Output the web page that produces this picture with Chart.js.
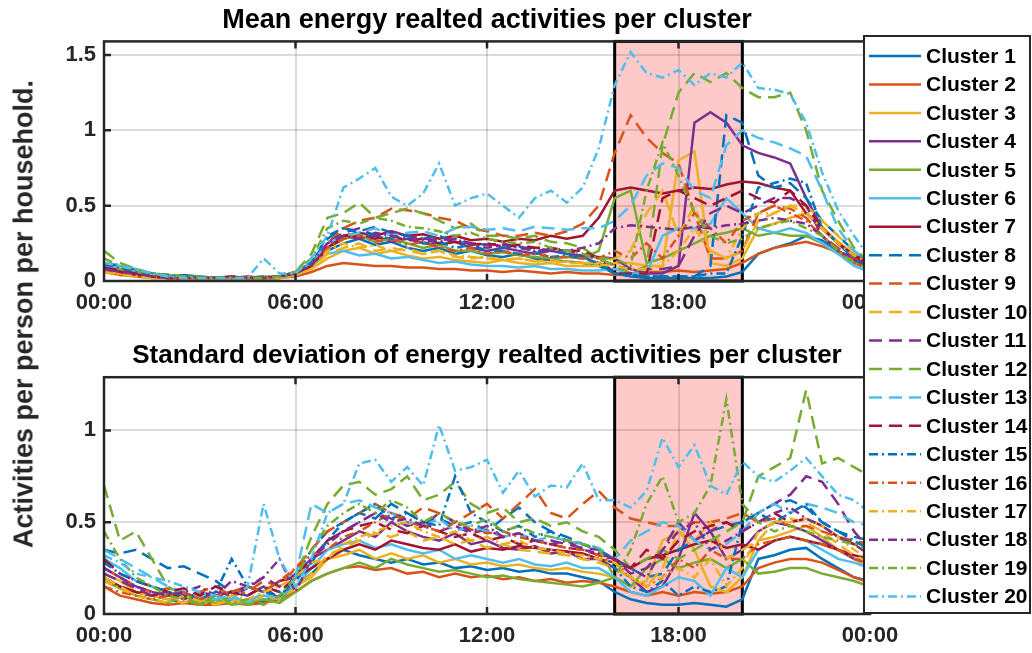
<!DOCTYPE html>
<html lang="en">
<head>
<meta charset="UTF-8">
<title>Energy related activities per cluster</title>
<script src="https://cdn.jsdelivr.net/npm/chart.js"></script>
<style>
    body { margin: 0; background: #fff; }
    #wrap { position: relative; width: 1032px; height: 653px; }
    #topChart { position: absolute; left: 0; top: 0; }
    #botChart { position: absolute; left: 0; top: 330px; }
    #legend { position: absolute; left: 860px; top: 32px; }
    #ylab {
        position: absolute; left: 24px; top: 314px;
        transform: translate(-50%, -50%) rotate(-90deg);
        white-space: nowrap; color: #262626;
        font: bold 27px "Liberation Sans", Arial, sans-serif;
    }
</style>
</head>
<body>
<div id="wrap">
    <canvas id="topChart" width="1032" height="330"></canvas>
    <canvas id="botChart" width="1032" height="323"></canvas>
    <canvas id="legend" width="172" height="586"></canvas>
    <div id="ylab">Activities per person per household.</div>
</div>
<script>
// time of day in hours, every 30 minutes
const hours = [0,0.5,1,1.5,2,2.5,3,3.5,4,4.5,5,5.5,6,6.5,7,7.5,8,8.5,9,9.5,10,10.5,11,11.5,
    12,12.5,13,13.5,14,14.5,15,15.5,16,16.5,17,17.5,18,18.5,19,19.5,20,20.5,21,21.5,22,22.5,23,23.5,24];
const tickHours = [0, 6, 12, 18, 24];
const tickLabels = ['00:00', '06:00', '12:00', '18:00', '00:00'];
const meanTicks = [0, 0.5, 1, 1.5];
const stdTicks = [0, 0.5, 1];
const peakStart = 16, peakEnd = 20;

// mean activities (top plot)
const m1 = [0.1,0.08,0.06,0.04,0.03,0.04,0.03,0.02,0.03,0.02,0.02,0.03,0.05,0.1,
    0.2,0.25,0.28,0.24,0.26,0.22,0.2,0.22,0.18,0.2,0.17,0.16,0.18,0.15,0.14,0.13,0.12,0.1,
    0.05,0.03,0.02,0.02,0.02,0.02,0.02,0.03,0.06,0.18,0.22,0.25,0.3,0.27,0.2,0.14,0.08];
const m2 = [0.06,0.04,0.03,0.02,0.02,0.01,0.01,0.01,0.01,0.01,0.01,0.02,0.03,0.06,
    0.1,0.12,0.11,0.1,0.1,0.09,0.09,0.08,0.08,0.07,0.07,0.06,0.07,0.06,0.05,0.06,0.05,0.05,
    0.04,0.05,0.06,0.06,0.07,0.06,0.07,0.08,0.12,0.18,0.22,0.24,0.26,0.23,0.19,0.14,0.08];
const m3 = [0.08,0.05,0.04,0.02,0.02,0.02,0.01,0.01,0.01,0.01,0.02,0.02,0.04,0.08,
    0.15,0.2,0.22,0.18,0.2,0.17,0.15,0.16,0.14,0.13,0.12,0.14,0.12,0.11,0.12,0.1,0.1,0.1,
    0.12,0.12,0.1,0.1,0.8,0.86,0.12,0.1,0.15,0.35,0.38,0.42,0.45,0.36,0.26,0.18,0.11];
const m4 = [0.09,0.07,0.05,0.03,0.02,0.02,0.01,0.02,0.01,0.02,0.02,0.03,0.05,0.12,
    0.25,0.3,0.28,0.3,0.26,0.28,0.25,0.24,0.26,0.22,0.2,0.22,0.2,0.18,0.2,0.18,0.17,0.16,
    0.15,0.08,0.05,0.05,0.1,1.05,1.12,1.05,0.9,0.85,0.82,0.78,0.55,0.35,0.25,0.17,0.1];
const m5 = [0.1,0.08,0.06,0.05,0.04,0.03,0.03,0.02,0.02,0.02,0.03,0.03,0.06,0.12,
    0.22,0.28,0.3,0.26,0.28,0.25,0.22,0.24,0.2,0.2,0.18,0.19,0.17,0.16,0.15,0.16,0.15,0.2,
    0.55,0.6,0.12,0.15,0.2,0.25,0.3,0.32,0.35,0.3,0.32,0.3,0.3,0.25,0.18,0.12,0.08];
const m6 = [0.12,0.1,0.08,0.05,0.03,0.02,0.02,0.02,0.02,0.02,0.02,0.02,0.04,0.1,
    0.18,0.2,0.17,0.18,0.15,0.16,0.14,0.12,0.13,0.11,0.1,0.1,0.09,0.1,0.08,0.08,0.07,0.07,
    0.08,0.05,0.05,0.3,0.35,0.35,0.38,0.55,0.45,0.35,0.32,0.35,0.32,0.25,0.18,0.1,0.06];
const m7 = [0.08,0.06,0.04,0.03,0.02,0.02,0.02,0.02,0.02,0.03,0.02,0.03,0.05,0.1,
    0.22,0.3,0.32,0.3,0.33,0.3,0.31,0.28,0.3,0.27,0.28,0.26,0.28,0.27,0.3,0.28,0.3,0.42,
    0.6,0.62,0.6,0.58,0.6,0.62,0.61,0.64,0.66,0.65,0.62,0.6,0.45,0.35,0.25,0.15,0.1];
const m8 = [0.12,0.1,0.07,0.05,0.03,0.03,0.02,0.02,0.02,0.02,0.02,0.03,0.05,0.12,
    0.28,0.35,0.33,0.36,0.32,0.3,0.28,0.3,0.26,0.25,0.24,0.22,0.23,0.2,0.2,0.18,0.16,0.12,
    0.05,0.04,0.03,0.03,0.03,0.03,0.1,1.1,1.05,0.7,0.62,0.65,0.55,0.4,0.3,0.2,0.12];
const m9 = [0.07,0.05,0.04,0.03,0.02,0.02,0.02,0.01,0.02,0.02,0.02,0.03,0.05,0.1,
    0.25,0.35,0.4,0.42,0.48,0.47,0.45,0.42,0.4,0.35,0.33,0.3,0.3,0.32,0.3,0.33,0.38,0.5,
    0.85,1.1,0.95,0.85,0.78,0.45,0.15,0.15,0.2,0.45,0.5,0.48,0.42,0.3,0.22,0.15,0.1];
const m10 = [0.06,0.05,0.03,0.02,0.02,0.02,0.01,0.01,0.01,0.02,0.02,0.02,0.04,0.09,
    0.18,0.22,0.25,0.2,0.22,0.2,0.18,0.2,0.16,0.15,0.16,0.14,0.15,0.13,0.14,0.12,0.12,0.12,
    0.15,0.2,0.45,0.6,0.3,0.5,0.2,0.15,0.2,0.4,0.45,0.5,0.5,0.4,0.3,0.2,0.12];
const m11 = [0.08,0.06,0.04,0.03,0.02,0.02,0.02,0.02,0.02,0.02,0.02,0.03,0.06,0.12,
    0.25,0.32,0.35,0.3,0.33,0.3,0.28,0.27,0.28,0.25,0.24,0.25,0.22,0.22,0.2,0.2,0.18,0.15,
    0.1,0.08,0.08,0.08,0.1,0.3,0.45,0.5,0.45,0.5,0.55,0.55,0.5,0.3,0.2,0.14,0.09];
const m12 = [0.2,0.12,0.08,0.05,0.04,0.03,0.02,0.02,0.02,0.02,0.02,0.03,0.06,0.18,
    0.42,0.45,0.52,0.42,0.45,0.48,0.45,0.4,0.35,0.38,0.3,0.3,0.28,0.3,0.26,0.25,0.22,0.15,
    0.1,0.05,0.1,0.9,1.25,1.38,1.32,1.38,1.28,1.22,1.22,1.25,1.0,0.6,0.4,0.22,0.12];
const m13 = [0.1,0.08,0.06,0.04,0.03,0.02,0.02,0.02,0.02,0.02,0.02,0.02,0.05,0.12,
    0.25,0.3,0.32,0.35,0.3,0.32,0.33,0.3,0.35,0.36,0.34,0.35,0.33,0.36,0.35,0.34,0.35,0.35,
    0.4,0.5,0.7,0.78,0.75,0.6,0.55,0.9,1.0,0.95,0.92,0.88,0.83,0.6,0.35,0.2,0.12];
const m14 = [0.09,0.07,0.05,0.03,0.02,0.02,0.02,0.02,0.03,0.02,0.02,0.03,0.05,0.1,
    0.22,0.28,0.3,0.28,0.3,0.27,0.28,0.25,0.26,0.24,0.25,0.23,0.24,0.22,0.22,0.2,0.2,0.15,
    0.05,0.05,0.05,0.55,0.6,0.55,0.5,0.55,0.6,0.55,0.52,0.6,0.5,0.35,0.25,0.17,0.12];
const m15 = [0.11,0.09,0.06,0.05,0.04,0.03,0.02,0.02,0.02,0.02,0.03,0.02,0.05,0.12,
    0.3,0.35,0.32,0.3,0.28,0.3,0.25,0.26,0.22,0.24,0.2,0.2,0.18,0.19,0.16,0.17,0.15,0.12,
    0.05,0.04,0.03,0.03,0.03,0.03,0.05,0.05,0.3,0.62,0.65,0.68,0.65,0.35,0.25,0.15,0.08];
const m16 = [0.07,0.05,0.04,0.03,0.02,0.02,0.02,0.02,0.02,0.02,0.02,0.02,0.05,0.1,
    0.22,0.28,0.3,0.26,0.28,0.24,0.26,0.22,0.2,0.22,0.18,0.2,0.17,0.18,0.16,0.16,0.15,0.15,
    0.2,0.15,0.25,0.15,0.3,0.45,0.35,0.25,0.4,0.45,0.5,0.45,0.4,0.3,0.2,0.12,0.08];
const m17 = [0.06,0.04,0.03,0.02,0.02,0.01,0.01,0.01,0.02,0.01,0.02,0.02,0.04,0.08,
    0.2,0.25,0.22,0.24,0.2,0.22,0.18,0.2,0.17,0.16,0.15,0.14,0.15,0.13,0.12,0.13,0.12,0.11,
    0.1,0.08,0.08,0.1,0.2,0.35,0.2,0.15,0.35,0.45,0.45,0.5,0.45,0.35,0.25,0.17,0.12];
const m18 = [0.08,0.06,0.05,0.03,0.02,0.02,0.02,0.02,0.02,0.02,0.02,0.03,0.05,0.1,
    0.25,0.3,0.28,0.32,0.3,0.28,0.27,0.26,0.28,0.24,0.22,0.24,0.22,0.2,0.21,0.2,0.22,0.25,
    0.35,0.37,0.36,0.35,0.34,0.36,0.35,0.37,0.38,0.4,0.42,0.4,0.38,0.3,0.2,0.15,0.1];
const m19 = [0.15,0.1,0.07,0.05,0.04,0.03,0.02,0.02,0.02,0.02,0.02,0.03,0.06,0.15,
    0.35,0.4,0.38,0.42,0.4,0.36,0.35,0.33,0.3,0.32,0.28,0.26,0.25,0.26,0.22,0.2,0.18,0.15,
    0.15,0.1,0.6,0.92,0.7,0.45,0.3,0.25,0.28,0.35,0.38,0.4,0.35,0.3,0.2,0.12,0.08];
const m20 = [0.12,0.1,0.08,0.05,0.03,0.02,0.02,0.02,0.02,0.02,0.15,0.05,0.05,0.15,
    0.3,0.62,0.68,0.75,0.56,0.5,0.58,0.78,0.5,0.55,0.58,0.5,0.42,0.55,0.6,0.52,0.62,0.88,
    1.3,1.52,1.38,1.35,1.4,1.3,1.38,1.35,1.45,1.28,1.27,1.24,1.05,0.72,0.47,0.3,0.15];

// standard deviation (bottom plot)
const s1 = [0.2,0.15,0.12,0.1,0.08,0.06,0.07,0.05,0.08,0.06,0.07,0.1,0.15,0.22,
    0.3,0.35,0.32,0.3,0.28,0.3,0.27,0.28,0.25,0.26,0.24,0.25,0.23,0.24,0.22,0.22,0.2,0.18,
    0.12,0.08,0.06,0.05,0.05,0.06,0.05,0.04,0.08,0.3,0.32,0.35,0.36,0.3,0.25,0.2,0.18];
const s2 = [0.15,0.1,0.08,0.06,0.05,0.06,0.05,0.05,0.06,0.05,0.06,0.08,0.12,0.18,
    0.22,0.25,0.26,0.24,0.25,0.22,0.23,0.2,0.22,0.2,0.21,0.19,0.2,0.18,0.19,0.17,0.18,0.17,
    0.15,0.12,0.1,0.12,0.1,0.12,0.11,0.12,0.15,0.25,0.28,0.3,0.3,0.28,0.24,0.2,0.17];
const s3 = [0.22,0.18,0.12,0.1,0.08,0.1,0.07,0.08,0.06,0.08,0.1,0.08,0.15,0.2,
    0.3,0.32,0.35,0.3,0.33,0.3,0.32,0.28,0.3,0.27,0.28,0.26,0.27,0.25,0.24,0.25,0.23,0.22,
    0.2,0.15,0.18,0.4,0.45,0.35,0.15,0.12,0.2,0.4,0.42,0.45,0.48,0.42,0.35,0.3,0.25];
const s4 = [0.25,0.2,0.15,0.12,0.1,0.12,0.08,0.1,0.12,0.1,0.15,0.08,0.2,0.3,
    0.35,0.4,0.45,0.42,0.5,0.45,0.42,0.4,0.44,0.38,0.4,0.36,0.35,0.37,0.33,0.34,0.3,0.3,
    0.25,0.2,0.12,0.15,0.3,0.55,0.45,0.3,0.35,0.45,0.5,0.48,0.45,0.4,0.35,0.3,0.28];
const s5 = [0.18,0.14,0.1,0.08,0.06,0.1,0.05,0.08,0.05,0.06,0.08,0.06,0.12,0.18,
    0.22,0.25,0.28,0.25,0.3,0.27,0.25,0.23,0.24,0.22,0.2,0.21,0.19,0.18,0.17,0.16,0.15,0.17,
    0.2,0.15,0.25,0.3,0.25,0.28,0.3,0.25,0.3,0.22,0.23,0.25,0.25,0.22,0.2,0.18,0.15];
const s6 = [0.3,0.25,0.18,0.15,0.12,0.1,0.08,0.1,0.08,0.06,0.1,0.08,0.15,0.25,
    0.35,0.38,0.4,0.36,0.38,0.35,0.33,0.35,0.3,0.32,0.3,0.28,0.3,0.27,0.26,0.28,0.25,0.25,
    0.2,0.12,0.1,0.15,0.2,0.18,0.1,0.25,0.2,0.35,0.4,0.42,0.4,0.35,0.3,0.28,0.25];
const s7 = [0.2,0.15,0.12,0.1,0.12,0.08,0.12,0.1,0.12,0.15,0.12,0.18,0.2,0.25,
    0.3,0.35,0.38,0.35,0.4,0.38,0.36,0.35,0.38,0.34,0.36,0.35,0.37,0.36,0.35,0.34,0.33,0.3,
    0.28,0.25,0.3,0.32,0.35,0.38,0.4,0.36,0.38,0.35,0.4,0.42,0.4,0.38,0.35,0.32,0.3];
const s8 = [0.35,0.33,0.35,0.3,0.25,0.26,0.22,0.18,0.12,0.1,0.15,0.12,0.2,0.35,
    0.45,0.5,0.55,0.52,0.6,0.55,0.5,0.52,0.48,0.5,0.45,0.52,0.58,0.5,0.45,0.42,0.38,0.35,
    0.3,0.25,0.2,0.22,0.35,0.4,0.45,0.48,0.5,0.55,0.6,0.62,0.58,0.5,0.45,0.42,0.4];
const s9 = [0.25,0.2,0.15,0.12,0.14,0.1,0.12,0.15,0.1,0.12,0.18,0.15,0.25,0.35,
    0.45,0.5,0.55,0.6,0.55,0.52,0.58,0.55,0.5,0.55,0.6,0.52,0.6,0.68,0.55,0.52,0.6,0.67,
    0.58,0.52,0.5,0.48,0.48,0.5,0.5,0.52,0.55,0.5,0.52,0.48,0.48,0.45,0.42,0.4,0.38];
const s10 = [0.2,0.15,0.1,0.12,0.08,0.06,0.1,0.05,0.08,0.06,0.1,0.08,0.14,0.22,
    0.32,0.36,0.4,0.44,0.42,0.45,0.4,0.42,0.38,0.4,0.36,0.38,0.35,0.34,0.33,0.32,0.3,0.28,
    0.25,0.2,0.15,0.25,0.45,0.4,0.5,0.3,0.35,0.4,0.5,0.52,0.5,0.45,0.38,0.32,0.28];
const s11 = [0.22,0.18,0.14,0.1,0.12,0.1,0.08,0.12,0.1,0.14,0.2,0.15,0.22,0.3,
    0.4,0.45,0.5,0.55,0.52,0.48,0.5,0.45,0.48,0.44,0.46,0.42,0.44,0.4,0.4,0.38,0.36,0.35,
    0.3,0.22,0.25,0.35,0.5,0.4,0.45,0.5,0.45,0.55,0.6,0.65,0.75,0.72,0.6,0.45,0.35];
const s12 = [0.7,0.4,0.45,0.3,0.15,0.1,0.08,0.06,0.1,0.05,0.08,0.06,0.2,0.42,
    0.6,0.7,0.72,0.65,0.68,0.75,0.62,0.65,0.72,0.6,0.55,0.58,0.5,0.52,0.48,0.5,0.45,0.42,
    0.35,0.25,0.3,0.35,0.3,0.35,0.4,0.45,0.5,0.75,0.8,0.85,1.22,0.82,0.85,0.8,0.75];
const s13 = [0.35,0.3,0.25,0.2,0.15,0.12,0.1,0.08,0.1,0.06,0.12,0.08,0.2,0.6,
    0.55,0.6,0.62,0.58,0.55,0.5,0.48,0.52,0.45,0.48,0.45,0.42,0.44,0.4,0.42,0.4,0.38,0.36,
    0.3,0.4,0.45,0.5,0.48,0.4,0.35,0.38,0.45,0.55,0.6,0.55,0.6,0.58,0.55,0.5,0.48];
const s14 = [0.3,0.22,0.18,0.15,0.12,0.14,0.1,0.15,0.12,0.1,0.15,0.12,0.2,0.3,
    0.4,0.45,0.48,0.5,0.46,0.44,0.48,0.45,0.42,0.44,0.4,0.42,0.38,0.4,0.38,0.36,0.35,0.32,
    0.3,0.25,0.35,0.3,0.4,0.45,0.48,0.5,0.45,0.5,0.55,0.5,0.52,0.48,0.42,0.38,0.35];
const s15 = [0.28,0.22,0.18,0.15,0.12,0.1,0.08,0.12,0.3,0.15,0.12,0.1,0.18,0.28,
    0.4,0.5,0.55,0.6,0.52,0.55,0.5,0.48,0.75,0.55,0.5,0.45,0.48,0.42,0.45,0.4,0.38,0.35,
    0.25,0.15,0.12,0.18,0.1,0.15,0.12,0.15,0.5,0.55,0.5,0.55,0.6,0.5,0.45,0.4,0.35];
const s16 = [0.15,0.12,0.1,0.08,0.1,0.12,0.08,0.1,0.12,0.15,0.12,0.18,0.25,0.32,
    0.35,0.42,0.45,0.5,0.55,0.5,0.48,0.45,0.5,0.46,0.44,0.45,0.42,0.4,0.38,0.36,0.35,0.32,
    0.28,0.2,0.15,0.2,0.3,0.25,0.35,0.3,0.3,0.38,0.4,0.42,0.4,0.38,0.35,0.3,0.27];
const s17 = [0.18,0.14,0.1,0.08,0.06,0.1,0.07,0.05,0.1,0.08,0.12,0.15,0.2,0.28,
    0.3,0.38,0.42,0.45,0.48,0.5,0.45,0.42,0.45,0.4,0.42,0.38,0.4,0.36,0.35,0.33,0.32,0.3,
    0.28,0.2,0.15,0.2,0.25,0.2,0.3,0.15,0.25,0.45,0.5,0.5,0.52,0.48,0.42,0.35,0.3];
const s18 = [0.25,0.2,0.15,0.12,0.1,0.12,0.15,0.1,0.18,0.15,0.2,0.3,0.12,0.3,
    0.38,0.45,0.5,0.55,0.5,0.52,0.48,0.55,0.5,0.45,0.48,0.42,0.44,0.4,0.38,0.4,0.35,0.33,
    0.3,0.25,0.2,0.35,0.45,0.5,0.35,0.4,0.45,0.5,0.55,0.58,0.52,0.48,0.42,0.38,0.32];
const s19 = [0.45,0.3,0.2,0.15,0.1,0.08,0.05,0.1,0.06,0.08,0.05,0.1,0.2,0.35,
    0.48,0.55,0.6,0.55,0.62,0.58,0.5,0.55,0.5,0.48,0.52,0.45,0.48,0.44,0.42,0.4,0.38,0.36,
    0.2,0.35,0.6,0.75,0.5,0.55,0.7,1.17,0.6,0.5,0.45,0.48,0.45,0.42,0.4,0.38,0.35];
const s20 = [0.32,0.28,0.22,0.2,0.18,0.15,0.12,0.1,0.08,0.15,0.6,0.3,0.15,0.3,
    0.55,0.6,0.82,0.84,0.72,0.8,0.7,1.03,0.78,0.8,0.84,0.66,0.78,0.64,0.7,0.69,0.82,0.62,
    0.62,0.58,0.67,0.96,0.8,0.92,0.7,0.65,0.83,0.75,0.72,0.78,0.85,0.75,0.65,0.62,0.55];

const meanSeries = [m1,m2,m3,m4,m5,m6,m7,m8,m9,m10,m11,m12,m13,m14,m15,m16,m17,m18,m19,m20];
const stdSeries = [s1,s2,s3,s4,s5,s6,s7,s8,s9,s10,s11,s12,s13,s14,s15,s16,s17,s18,s19,s20];
const clusterNames = meanSeries.map((_, i) => 'Cluster ' + (i + 1));

// MATLAB default colour order, then line style changes every 7 clusters
const palette = ['#0072BD', '#D95319', '#EDB120', '#7E2F8E', '#77AC30', '#4DBEEE', '#A2142F'];
function dashFor(i) {
    if (i < 7) return [];
    if (i < 14) return [13, 7];
    return [9, 4, 2, 4];
}

const FONT = '"Liberation Sans", Arial, sans-serif';
const INK = '#262626';

// pink peak period with black edges
const peakShade = {
    id: 'peakShade',
    beforeDatasetsDraw(chart) {
        const { ctx, chartArea, scales } = chart;
        const x0 = scales.x.getPixelForValue(peakStart);
        const x1 = scales.x.getPixelForValue(peakEnd);
        ctx.save();
        ctx.fillStyle = 'rgba(245,0,0,0.21)';
        ctx.fillRect(x0, chartArea.top, x1 - x0, chartArea.bottom - chartArea.top);
        ctx.strokeStyle = '#000';
        ctx.lineWidth = 3;
        ctx.strokeRect(x0, chartArea.top, x1 - x0, chartArea.bottom - chartArea.top);
        ctx.restore();
    }
};

// axes box with inward tick marks
const boxFrame = {
    id: 'boxFrame',
    afterDatasetsDraw(chart) {
        const { ctx, chartArea: a, scales } = chart;
        ctx.save();
        ctx.strokeStyle = INK;
        ctx.lineWidth = 2.5;
        ctx.strokeRect(a.left, a.top, a.right - a.left, a.bottom - a.top);
        ctx.beginPath();
        tickHours.slice(1, -1).forEach(h => {
            const x = scales.x.getPixelForValue(h);
            ctx.moveTo(x, a.bottom); ctx.lineTo(x, a.bottom - 7);
            ctx.moveTo(x, a.top); ctx.lineTo(x, a.top + 7);
        });
        scales.y.ticks.forEach(t => {
            if (t.value === 0) return;
            const y = scales.y.getPixelForValue(t.value);
            ctx.moveTo(a.left, y); ctx.lineTo(a.left + 7, y);
            ctx.moveTo(a.right, y); ctx.lineTo(a.right - 7, y);
        });
        ctx.stroke();
        ctx.restore();
    }
};

function buildSets(series) {
    return series.map((vals, i) => ({
        label: clusterNames[i],
        data: vals.map((v, j) => ({ x: hours[j], y: v })),
        borderColor: palette[i % 7],
        borderWidth: 2.5,
        borderDash: dashFor(i),
        pointRadius: 0,
        tension: 0,
        fill: false,
        order: 19 - i
    }));
}

function makeChart(id, series, yMax, yTicks, title, titleSize, titlePad, axisHeight) {
    return new Chart(document.getElementById(id), {
        type: 'line',
        data: { datasets: buildSets(series) },
        options: {
            responsive: false,
            animation: false,
            devicePixelRatio: 1,
            layout: { padding: { left: 0, right: 162, top: 0, bottom: 0 } },
            plugins: {
                legend: { display: false },
                tooltip: { enabled: false },
                title: {
                    display: true,
                    fullSize: false,
                    text: title,
                    color: '#000',
                    font: { family: FONT, size: titleSize, weight: 'bold' },
                    padding: titlePad
                }
            },
            scales: {
                x: {
                    type: 'linear',
                    min: 0,
                    max: 24,
                    afterBuildTicks: s => { s.ticks = tickHours.map(v => ({ value: v })); },
                    afterFit: s => { s.height = axisHeight; },
                    border: { display: false },
                    grid: {
                        drawTicks: false,
                        lineWidth: 2,
                        color: c => (c.tick && (c.tick.value === 0 || c.tick.value === 24)) ? 'rgba(0,0,0,0)' : 'rgba(0,0,0,0.14)'
                    },
                    ticks: {
                        padding: 9,
                        maxRotation: 0,
                        autoSkip: false,
                        color: INK,
                        font: { family: FONT, size: 22, weight: 'bold' },
                        callback: v => tickLabels[tickHours.indexOf(v)]
                    }
                },
                y: {
                    min: 0,
                    max: yMax,
                    afterBuildTicks: s => { s.ticks = yTicks.map(v => ({ value: v })); },
                    afterFit: s => { s.width = 104; },
                    border: { display: false },
                    grid: {
                        drawTicks: false,
                        lineWidth: 2,
                        color: c => (c.tick && c.tick.value === 0) ? 'rgba(0,0,0,0)' : 'rgba(0,0,0,0.14)'
                    },
                    ticks: {
                        padding: 8,
                        color: INK,
                        font: { family: FONT, size: 22, weight: 'bold' },
                        callback: v => String(v)
                    }
                }
            }
        },
        plugins: [peakShade, boxFrame]
    });
}

makeChart('topChart', meanSeries, 1.59, meanTicks,
    'Mean energy realted activities per cluster', 27, { top: 4, bottom: 5 }, 49);
makeChart('botChart', stdSeries, 1.29, stdTicks,
    'Standard deviation of energy realted activities per cluster', 26, { top: 10, bottom: 6 }, 39);

// legend box spanning both plots
(function drawLegend() {
    const ctx = document.getElementById('legend').getContext('2d');
    ctx.fillStyle = '#fff';
    ctx.fillRect(4, 4, 166, 577);
    ctx.strokeStyle = INK;
    ctx.lineWidth = 2;
    ctx.strokeRect(4, 4, 166, 577);
    ctx.font = 'bold 21px ' + FONT;
    ctx.textBaseline = 'middle';
    clusterNames.forEach((name, i) => {
        const y = 24 + i * 28.45;
        ctx.save();
        ctx.strokeStyle = palette[i % 7];
        ctx.lineWidth = 2.5;
        ctx.setLineDash(dashFor(i));
        ctx.beginPath();
        ctx.moveTo(9, y);
        ctx.lineTo(61, y);
        ctx.stroke();
        ctx.restore();
        ctx.fillStyle = '#000';
        ctx.fillText(name, 66, y + 1);
    });
})();
</script>
</body>
</html>
